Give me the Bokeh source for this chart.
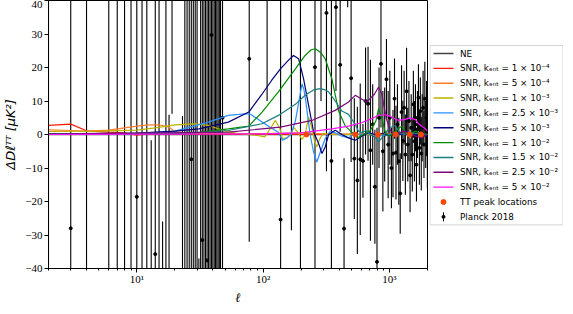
import math
from bokeh.plotting import figure
from bokeh.layouts import row
from bokeh.models import Range1d, FixedTicker, ColumnDataSource
from bokeh.core.properties import value
from bokeh.embed import file_html
from bokeh.resources import INLINE

# ---------------- data ----------------
# Planck 2018 residuals, unbinned low-ell
low_ell = [2, 3, 4, 5, 6, 7, 8, 9, 10, 11, 12, 13, 14, 15, 16, 17, 18, 19, 20, 21, 22, 23,
           24, 25, 26, 27, 28, 29, 30, 31, 32, 33, 34, 35, 36, 37, 38, 39, 40, 41, 42, 43, 44, 45, 46]
low_dd = [-700, -28, 150, 150, -90, 110, -75, 85, -18.6, 60, -70, -60, -35.7, 70, -120, 55, -100, 110,
          140, -150, 130, -90, 50, -60, 75, -7.4, 80, -55, 65, -120, 70, -31.5, 60, -50, -37.6, 45,
          -65, 29.7, -55, 70, -48, 52, -60, 58, -50]
low_err = [900, 500, 400, 60, 300, 250, 230, 210, 200, 180, 170, 58.3, 150, 140, 94, 130, 105.9, 103.8,
           70, 80, 60, 95.5, 120, 115, 120, 105, 125, 100, 110, 83, 115, 90, 105, 95, 88, 90,
           110, 85, 100, 115, 90, 95, 105, 100, 95]

# Planck 2018 residuals, binned high-ell
bin_ell = [47.7, 77.6, 107.5, 137.5, 167.4, 197.4, 227.3, 257.3, 287.2, 317.2, 347.1, 377.1, 407.1,
           437.0, 467.0, 497.0, 526.9, 556.9, 586.9, 616.8, 646.8, 676.8, 706.7, 736.7, 766.7, 796.6,
           826.6, 856.6, 886.5, 916.5, 946.5, 976.4, 1006.4, 1036.3, 1066.3, 1096.2, 1126.2, 1156.2,
           1186.1, 1216.1, 1246.1, 1276.0, 1306.0, 1336.0, 1366.0, 1395.9, 1425.9, 1455.9, 1485.8,
           1515.8, 1545.8, 1575.7, 1605.7, 1635.7, 1665.6, 1695.6, 1725.6, 1755.5, 1785.5, 1815.5,
           1845.4, 1875.4, 1905.4, 1935.3, 1965.3, 1995.3]
bin_dd = [5, 22.6, 58, -25.4, 50, -45, 70, 20.1, 45, 36.3, -7.9, 38, 20.8, -28.1, 60, 16.8, -7.2,
          -13.7, -7.4, -7.9, 10, 9.2, -4.7, 3, -15.6, -38, 5, 21.1, -5, 0, 16.5, -3,
          5, -10, -5.7, 10.7, -5.4, 3, -8, -17.6, 6.7, -1.9, 8, -6, 12.9, -3, 4, -12.2, 2, -6, 9, -2,
          5, -9, 3, 11, -4, 7, -5.7, 2, 8, -3, 10.7, 0, 5, -6]
bin_err = [80, 54.6, 48, 70, 78.6, 90, 25, 62, 35, 47.3, 50, 25, 20, 21, 22, 25, 18, 22, 22.6, 11,
           16, 17, 27, 12, 17, 40, 15, 19, 18, 14, 12, 16,
           14, 12, 13, 12, 14, 12, 13, 12, 14, 12, 11, 12, 13, 11, 12, 11, 10, 11, 10, 12,
           10, 11, 10, 10, 11, 10, 11, 10, 11, 10, 11, 10, 11, 10]

# TT peak locations
tt_peak_ell = [220, 537, 811, 1121, 1444, 1776]
tt_peak_dd = [0, 0, 0, 0, 0, 0]

# no-entanglement reference
ne_ell = [2, 2000]
ne_dd = [0, 0]

# SNR curves
ell_1e4 = [2, 3, 4, 6, 8, 10, 12, 20, 50, 100, 200, 400, 1000, 2000]
dd_1e4 = [2.7, 3.1, 1.1, 0.7, 0.5, -0.2, 0.2, 0.2, 0.1, 0.1, 0, 0, 0, 0]

ell_5e4 = [2, 3, 4, 6, 8, 10, 12.4, 15, 18, 20, 25, 50, 100, 200, 300, 500, 1000, 2000]
dd_5e4 = [1.4, 1.2, 1.0, 1.3, 2.0, 2.5, 2.9, 2.9, 2.2, 0.9, 0.4, 0.3, 0.3, 0.5, 0.2, 0.1, 0.1, 0]

ell_1e3 = [2, 5, 10, 14, 20, 29, 37, 44, 53, 64, 77, 90, 103, 115, 125, 135, 142, 155, 170, 174,
           190, 203, 215, 229, 243, 255, 266, 283, 300, 350, 500, 1000, 2000]
dd_1e3 = [0.9, 1.0, 1.3, 2.0, 2.9, 3.2, 2.7, 1.7, 0.8, 0.3, 0, -0.3, -0.7, 2, 4.2, 2, -1.2, -1, 1, 2.2,
          0.5, -1.5, 0, 5.2, 2, -2, -3.7, -1, 0.3, 0, 0, 0, 0]

ell_25e4 = [2, 10, 20, 37, 53, 64, 72, 80, 98, 115, 132, 142, 155, 166, 180, 190, 203, 210, 218, 228,
            236, 250, 266, 285, 310, 340, 372, 420, 474, 536, 605, 700, 820, 1000, 2000]
dd_25e4 = [0.1, 0.2, 1.0, 3.7, 5.7, 6.0, 6.2, 6.0, 3.7, 2, 0.7, -1.7, -1, 0, 4, 9, 15.1, 13.5, 9.7, 4,
           -0.2, -5, -8.2, -5, -1.2, 1, 0.5, -0.5, -1, 0.3, 0, 0.5, -0.5, 0, 0]

ell_5e3 = [2, 10, 20, 31, 53, 77, 97, 117, 137, 159, 174, 191, 209, 229, 251, 275, 292, 310, 330,
           372, 420, 474, 536, 605, 684, 772, 871, 984, 1180, 1416, 2000]
dd_5e3 = [0.2, 0.4, 1.0, 1.7, 3.7, 6.7, 11.8, 16.2, 19.6, 22.2, 23.6, 22.6, 16.6, 8.7, 0.75, -2.7,
          -5.7, -3.7, 0, 1.3, 0, -1, -1.7, -0.5, 0.5, 0, 0.3, -0.3, 0.2, -0.1, 0]

ell_1e2 = [2, 20, 29, 53, 77, 98, 132, 180, 215, 240, 259, 285, 310, 350, 396, 447, 504, 560, 620,
           700, 780, 820, 870, 920, 984, 1050, 1150, 1250, 1350, 1450, 1600, 1800, 2000]
dd_1e2 = [0.1, 0.3, 0.5, 1.7, 2.5, 6.7, 12.7, 19.6, 23.6, 25.3, 25.6, 24.5, 22.6, 16.6, 7, 2.5, 0.7,
          -1, 0, 1, 4, 7.7, 5, 1, -0.5, 0, 1.5, 2.5, 0.5, 0, 1, 0.3, 0]

ell_15e3 = [2, 29, 53, 98, 132, 180, 215, 250, 283, 310, 330, 372, 420, 447, 474, 504, 536, 569, 605,
            650, 700, 780, 820, 870, 930, 1000, 1112, 1180, 1300, 1500, 2000]
dd_15e3 = [0.1, 0.5, 1.2, 3.2, 5.7, 9, 11.7, 13.3, 13.7, 13.3, 12.7, 10, 7, 6.5, 6, 4.5, 3, 1, 0.5,
           1.2, 0, -1, -2.2, -1, 0.5, 2, 2.7, 1, 0, 0.5, 0]

ell_25e3 = [2, 53, 137, 243, 372, 474, 536, 605, 660, 760, 820, 870, 944, 1014, 1100, 1200, 1300,
            1450, 1600, 1800, 2000]
dd_25e3 = [0.1, 0.7, 2.2, 4.2, 7.2, 9.7, 11.7, 10.5, 9.7, 12, 14.2, 12, 4.7, 1.2, 0, 0.5, 1, 0.5,
           -0.5, -1, 0]

ell_5e2 = [2, 100, 200, 350, 474, 600, 700, 820, 927, 1000, 1180, 1333, 1416, 1600, 1700, 1920, 2000]
dd_5e2 = [0, 0.2, 0.5, 1.7, 2.5, 3.5, 4.5, 5.7, 5.9, 5.5, 4.2, 4.5, 4.9, 4.5, 3.2, 1.7, 1.0]

curve_labels = ["SNR,  kₑₙₜ = 1 × 10⁻⁴", "SNR,  kₑₙₜ = 5 × 10⁻⁴", "SNR,  kₑₙₜ = 1 × 10⁻³",
                "SNR,  kₑₙₜ = 2.5 × 10⁻³", "SNR,  kₑₙₜ = 5 × 10⁻³", "SNR,  kₑₙₜ = 1 × 10⁻²",
                "SNR,  kₑₙₜ = 1.5 × 10⁻²", "SNR,  kₑₙₜ = 2.5 × 10⁻²", "SNR,  kₑₙₜ = 5 × 10⁻²"]
curve_colors = ["#ff1a00", "#ff7f27", "#bdb200", "#2a8fff", "#00007a", "#008a00", "#1f7f7f",
                "#7a0a7a", "#ff10ff"]
curves = [(ell_1e4, dd_1e4), (ell_5e4, dd_5e4), (ell_1e3, dd_1e3), (ell_25e4, dd_25e4),
          (ell_5e3, dd_5e3), (ell_1e2, dd_1e2), (ell_15e3, dd_15e3), (ell_25e3, dd_25e3),
          (ell_5e2, dd_5e2)]
ne_label = "NE"
ne_color = "#444444"
tt_label = "TT peak locations"
tt_color = "#ff4500"
planck_label = "Planck 2018"

y_ticks = [-40, -30, -20, -10, 0, 10, 20, 30, 40]
x_ticks = [10, 100, 1000]
x_tick_labels = ["10¹", "10²", "10³"]

# ---------------- main figure ----------------
p = figure(x_axis_type="log", x_range=Range1d(2, 2000), y_range=Range1d(-40, 40),
           frame_width=379, frame_height=268, output_backend="svg", toolbar_location=None,
           min_border_left=42, min_border_top=0, min_border_right=2, min_border_bottom=26)
p.xgrid.visible = False
p.ygrid.visible = False
p.outline_line_color = "black"
p.outline_line_alpha = 1.0
p.background_fill_color = "white"
p.border_fill_color = "white"

minor = [m * d for d in (1, 10, 100) for m in range(2, 10)] + [2000]
p.xaxis.ticker = FixedTicker(ticks=x_ticks, minor_ticks=minor)
p.xaxis.major_label_overrides = {t: l for t, l in zip(x_ticks, x_tick_labels)}
p.yaxis.ticker = FixedTicker(ticks=y_ticks)
p.yaxis.major_label_overrides = {t: (str(t) if t >= 0 else "−" + str(-t)) for t in y_ticks}

for ax in (p.xaxis, p.yaxis):
    ax.major_tick_out = 4
    ax.major_tick_in = 0
    ax.minor_tick_out = 2
    ax.minor_tick_in = 0
    ax.axis_line_color = "black"
    ax.major_tick_line_color = "black"
    ax.minor_tick_line_color = "black"
    ax.major_label_text_font = "Liberation Serif"
    ax.major_label_text_font_size = "11px"
    ax.major_label_text_color = "black"
    ax.major_label_standoff = 2
    ax.axis_label_text_color = "black"
    ax.axis_label_text_font_style = "italic"
p.xaxis.major_label_standoff = 0
p.yaxis.minor_tick_line_color = None
p.xaxis.axis_label = "ℓ"
p.xaxis.axis_label_text_font = "DejaVu Serif"
p.xaxis.axis_label_text_font_size = "13px"
p.xaxis.axis_label_standoff = 2
p.yaxis.axis_label = "ΔDℓᵀᵀ [μK²]"
p.yaxis.axis_label_text_font = "DejaVu Sans"
p.yaxis.axis_label_text_font_size = "13px"
p.yaxis.axis_label_standoff = 4

# Planck error bars
low_src = ColumnDataSource(dict(x=low_ell, y=low_dd,
                                lo=[v - e for v, e in zip(low_dd, low_err)],
                                hi=[v + e for v, e in zip(low_dd, low_err)]))
bin_src = ColumnDataSource(dict(x=bin_ell, y=bin_dd,
                                lo=[v - e for v, e in zip(bin_dd, bin_err)],
                                hi=[v + e for v, e in zip(bin_dd, bin_err)]))
for src in (low_src, bin_src):
    p.segment(x0="x", y0="lo", x1="x", y1="hi", source=src, line_color="black", line_width=1.1)
    p.scatter("x", "y", source=src, size=3, color="black")

p.line(ne_ell, ne_dd, line_color=ne_color, line_width=1.3)
for (xe, yd), col in zip(curves, curve_colors):
    p.line(xe, yd, line_color=col, line_width=1.2)
p.scatter(tt_peak_ell, tt_peak_dd, size=5, color=tt_color)

# ---------------- legend panel (drawn as its own small canvas) ----------------
fig_h = 300
LW = 134
q = figure(frame_width=LW, frame_height=fig_h, x_range=Range1d(0, LW), y_range=Range1d(fig_h, 0),
           output_backend="svg", toolbar_location=None, min_border=0,
           x_axis_location=None, y_axis_location=None)
q.xgrid.visible = False
q.ygrid.visible = False
q.outline_line_color = None
q.background_fill_color = "white"
q.border_fill_color = "white"

n_items = 2 + len(curve_labels) + 1
row0 = 53          # first row centre (canvas px)
pitch = 14.85
ys = [row0 + i * pitch for i in range(n_items)]
q.quad(left=0.5, right=LW - 0.5, top=ys[0] - 8, bottom=ys[-1] + 8,
       fill_color="white", fill_alpha=0.8, line_color="#d5d5d5", line_width=1)

line_colors = [ne_color] + curve_colors
q.segment(x0=[4] * len(line_colors), x1=[24] * len(line_colors), y0=ys[:len(line_colors)],
          y1=ys[:len(line_colors)], line_color=line_colors, line_width=1.4)
q.scatter([14], [ys[len(line_colors)]], size=5, color=tt_color)
q.segment(x0=[14], x1=[14], y0=[ys[-1] - 4.5], y1=[ys[-1] + 4.5], line_color="black", line_width=1)
q.scatter([14], [ys[-1]], size=3, color="black")

labels = [ne_label] + curve_labels + [tt_label, planck_label]
q.text(x=[30.5] * n_items, y=ys, text=labels, text_font=value("DejaVu Sans"),
       text_font_size=value("8.8px"), text_baseline="middle", text_align="left", text_color="black")

layout = row(p, q)
layout.styles = {"margin-bottom": "-8px"}

open("out.html", "w").write(file_html(layout, INLINE))
